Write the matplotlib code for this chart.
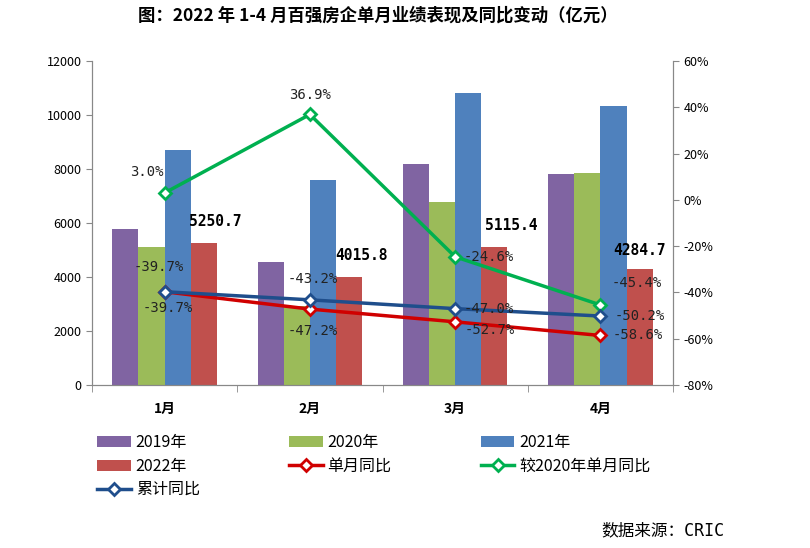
import matplotlib
matplotlib.use("Agg")
import matplotlib.pyplot as plt
import numpy as np
from matplotlib.ticker import FuncFormatter, FixedLocator

plt.rcParams['font.family'] = ['Noto Sans CJK SC', 'DejaVu Sans']
plt.rcParams['axes.unicode_minus'] = False

months = ["1月", "2月", "3月", "4月"]
v2019 = [5780, 4560, 8180, 7810]
v2020 = [5100, 2930, 6780, 7850]
v2021 = [8710, 7610, 10810, 10350]
v2022 = [5250.7, 4015.8, 5115.4, 4284.7]
yoy_month = [-39.7, -47.2, -52.7, -58.6]
vs2020 = [3.0, 36.9, -24.6, -45.4]
yoy_cum = [-39.7, -43.2, -47.0, -50.2]

c19, c20, c21, c22 = "#8064A2", "#9BBB59", "#4F81BD", "#C0504D"
cred, cgreen, cblue = "#D00000", "#00B050", "#1F4E8C"
gray = "#888888"
mono = ['DejaVu Sans Mono', 'Noto Sans CJK SC']

fig = plt.figure(figsize=(8.1, 5.48), dpi=100)
ax = fig.add_axes([92/810, 1-385/548, (673-92)/810, (385-61)/548])
ax2 = ax.twinx()

x = np.arange(len(months))
w = 0.18
bars = []
for i, (vals, col, lab) in enumerate([(v2019, c19, "2019年"), (v2020, c20, "2020年"),
                                     (v2021, c21, "2021年"), (v2022, c22, "2022年")]):
    b = ax.bar(x + (i - 1.5) * w, vals, w, color=col, label=lab, zorder=2)
    bars.append(b)

bar_lab_off = [(8, 10), (9, 10), (12, 10), (0, 8)]
for xi, v, (dx, dy) in zip(x, v2022, bar_lab_off):
    ax.annotate(f"{v:.1f}", (xi + 1.5 * w, v), xytext=(dx, dy), textcoords="offset points",
                ha="center", va="bottom", fontsize=10.5, fontweight="bold", color="black",
                family=mono)

ax.set_xlim(-0.5, 3.5)
ax.set_ylim(0, 12000)
ax.set_yticks(np.arange(0, 12001, 2000))
ax.set_xticks(x)
ax.set_xticklabels(months, fontweight="bold", fontsize=10)
ax.xaxis.set_minor_locator(FixedLocator([-0.5, 0.5, 1.5, 2.5, 3.5]))
ax.tick_params(axis="x", which="major", length=0, pad=12)
ax.tick_params(axis="x", which="minor", length=5, color=gray)
ax.tick_params(axis="y", length=4, color=gray, labelsize=9)

ax2.set_ylim(-80, 60)
ax2.set_yticks(np.arange(-80, 61, 20))
ax2.yaxis.set_major_formatter(FuncFormatter(lambda v, p: f"{int(v)}%"))
ax2.tick_params(axis="y", length=4, color=gray, labelsize=9)

for a in (ax, ax2):
    a.spines["top"].set_visible(False)
    for s in ("left", "right", "bottom"):
        a.spines[s].set_color(gray)

mk = dict(marker="D", markersize=6, markerfacecolor="white", markeredgewidth=2, linewidth=2.5, zorder=5)
l_red, = ax2.plot(x, yoy_month, color=cred, markeredgecolor=cred, label="单月同比", **mk)
l_green, = ax2.plot(x, vs2020, color=cgreen, markeredgecolor=cgreen, label="较2020年单月同比", **mk)
l_blue, = ax2.plot(x, yoy_cum, color=cblue, markeredgecolor=cblue, label="累计同比", **mk)

def lab(xi, yi, txt, dx, dy, ha="center"):
    ax2.annotate(txt, (xi, yi), xytext=(dx, dy), textcoords="offset points",
                 ha=ha, va="center", fontsize=10, color="#222222", zorder=6, family=mono)

green_off = [(-13, 15, "center"), (0, 14, "center"), (6, 0, "left"), (8, 16, "left")]
blue_off = [(-4, 18, "center"), (2, 15, "center"), (6, 0, "left"), (10, 0, "left")]
red_off = [(2, -12, "center"), (2, -16, "center"), (7, -6, "left"), (9, 0, "left")]
for vals, offs in ((vs2020, green_off), (yoy_cum, blue_off), (yoy_month, red_off)):
    for xi, v, (dx, dy, ha) in zip(x, vals, offs):
        lab(xi, v, f"{v:.1f}%", dx, dy, ha)

handles = [bars[0], bars[3], l_blue, bars[1], l_red, bars[2], l_green]
labels = [h.get_label() for h in handles]
fig.legend(handles, labels, loc="upper left", bbox_to_anchor=(83/810, 1-420/548), ncol=3,
           frameon=False, fontsize=11.5, handlelength=2.1, handleheight=0.7,
           columnspacing=5.6, labelspacing=0.4, handletextpad=0.3)

fig.text(0.467, 1-16/548, "图：2022 年 1-4 月百强房企单月业绩表现及同比变动（亿元）",
         ha="center", va="center", fontsize=12.5, fontweight="bold")
fig.text(724/810, 1-530/548, "数据来源：CRIC", ha="right", va="center", fontsize=12,
         family=mono)

fig.savefig("out.png", dpi=100)
